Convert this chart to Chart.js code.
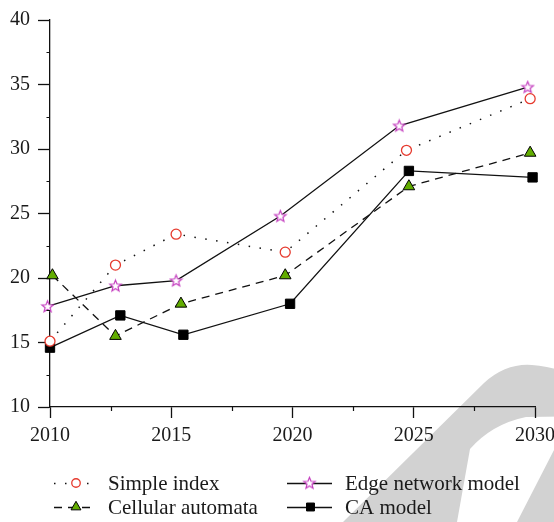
<!DOCTYPE html>
<html>
<head>
<meta charset="utf-8">
<script src="https://cdn.jsdelivr.net/npm/chart.js@4/dist/chart.umd.min.js"></script>
<style>
  html, body { margin: 0; padding: 0; background: #fff; }
  #wrap { width: 554px; height: 522px; overflow: hidden; position: relative; }
  canvas { display: block; }
</style>
</head>
<body>
<div id="wrap"><canvas id="c" width="600" height="522"></canvas></div>
<script>
// Series names (legend order: column 1 then column 2)
const seriesNames = ['Simple index', 'Cellular automata', 'Edge network model', 'CA model'];

// Observation years and values for each series
const simpleYears    = [2010.0, 2012.7, 2015.2, 2019.7, 2024.7, 2029.8];
const simpleValues   = [15.1, 21.0, 23.4, 22.0, 29.9, 33.9];
const cellularYears  = [2010.1, 2012.7, 2015.4, 2019.7, 2024.8, 2029.8];
const cellularValues = [20.2, 15.5, 18.0, 20.2, 27.1, 29.7];
const edgeYears      = [2009.9, 2012.7, 2015.2, 2019.5, 2024.4, 2029.7];
const edgeValues     = [17.8, 19.4, 19.8, 24.8, 31.8, 34.8];
const caYears        = [2010.0, 2012.9, 2015.5, 2019.9, 2024.8, 2029.9];
const caValues       = [14.6, 17.1, 15.6, 18.0, 28.3, 27.8];

// Axis tick labels
const xTicks = [2010, 2015, 2020, 2025, 2030];
const yTicks = [10, 15, 20, 25, 30, 35, 40];

const FONT = "'Liberation Serif', 'Times New Roman', serif";
const INK = '#111';

const pairs = (xs, ys) => xs.map((x, i) => ({ x: x, y: ys[i] }));

// Open five-pointed star marker
function makeStar(color) {
  const c = document.createElement('canvas');
  c.width = 15; c.height = 15;
  const g = c.getContext('2d');
  const cx = 7.5, cy = 7.9, ro = 6.0, ri = 2.6;
  g.beginPath();
  for (let k = 0; k < 10; k++) {
    const r = k % 2 ? ri : ro;
    const a = -Math.PI / 2 + k * Math.PI / 5;
    const px = cx + r * Math.cos(a), py = cy + r * Math.sin(a);
    k ? g.lineTo(px, py) : g.moveTo(px, py);
  }
  g.closePath();
  g.fillStyle = '#fff';
  g.fill();
  g.lineWidth = 1.2;
  g.lineJoin = 'miter';
  g.strokeStyle = color;
  g.stroke();
  return c;
}
const starImg = makeStar('#c43fbf');

const datasets = [
  {
    label: seriesNames[0],
    data: pairs(simpleYears, simpleValues),
    borderColor: INK, borderWidth: 1.5, borderDash: [1.5, 9.5], borderCapStyle: 'butt',
    pointStyle: 'circle', pointRadius: 5, pointBorderWidth: 1.3,
    pointBorderColor: '#e63a2e', pointBackgroundColor: '#fff',
    legendCol: 0, legendRow: 0
  },
  {
    label: seriesNames[1],
    data: pairs(cellularYears, cellularValues),
    borderColor: INK, borderWidth: 1.3, borderDash: [8, 6],
    pointStyle: 'triangle', pointRadius: 6.7, pointBorderWidth: 1,
    pointBorderColor: '#000', pointBackgroundColor: '#62ad00',
    legendCol: 0, legendRow: 1
  },
  {
    label: seriesNames[2],
    data: pairs(edgeYears, edgeValues),
    borderColor: INK, borderWidth: 1.3,
    pointStyle: starImg, pointRadius: 7, pointBorderWidth: 0,
    legendCol: 1, legendRow: 0
  },
  {
    label: seriesNames[3],
    data: pairs(caYears, caValues),
    borderColor: INK, borderWidth: 1.3,
    pointStyle: 'rect', pointRadius: 6.6, pointBorderWidth: 1,
    pointBorderColor: '#000', pointBackgroundColor: '#000',
    legendCol: 1, legendRow: 1
  }
];
datasets.forEach(d => { d.fill = false; d.tension = 0; d.clip = false; d.pointHoverRadius = d.pointRadius; });

// Background and faint emblem behind the plot
const backdrop = {
  id: 'backdrop',
  beforeDraw(chart) {
    const ctx = chart.ctx;
    ctx.save();
    ctx.fillStyle = '#fff';
    ctx.fillRect(0, 0, chart.width, chart.height);
    ctx.beginPath();
    ctx.moveTo(343, 522);
    ctx.lineTo(484, 383);
    ctx.quadraticCurveTo(506, 363, 532, 365);
    ctx.quadraticCurveTo(560, 367, 600, 385);
    ctx.lineTo(600, 522);
    ctx.closePath();
    ctx.moveTo(470, 449);
    ctx.quadraticCurveTo(492, 424, 526, 417);
    ctx.lineTo(600, 416);
    ctx.lineTo(600, 440);
    ctx.lineTo(554, 450);
    ctx.lineTo(517, 522);
    ctx.lineTo(457, 522);
    ctx.closePath();
    ctx.fillStyle = '#d2d2d2';
    ctx.fill('evenodd');
    ctx.restore();
  }
};

// Short minor ticks halfway between labelled ticks
const minorTicks = {
  id: 'minorTicks',
  afterDraw(chart) {
    const ctx = chart.ctx;
    const xs = chart.scales.x, ys = chart.scales.y;
    ctx.save();
    ctx.strokeStyle = INK;
    ctx.lineWidth = 1.2;
    ctx.beginPath();
    for (let i = 0; i + 1 < xTicks.length; i++) {
      const px = Math.round(xs.getPixelForValue((xTicks[i] + xTicks[i + 1]) / 2)) + 0.5;
      ctx.moveTo(px, xs.top);
      ctx.lineTo(px, xs.top + 4);
    }
    for (let i = 0; i + 1 < yTicks.length; i++) {
      const py = Math.round(ys.getPixelForValue((yTicks[i] + yTicks[i + 1]) / 2)) + 0.5;
      ctx.moveTo(ys.right, py);
      ctx.lineTo(ys.right - 3.5, py);
    }
    ctx.stroke();
    ctx.restore();
  }
};

// Two-column legend with line sample and marker
const sampleLegend = {
  id: 'sampleLegend',
  afterDraw(chart) {
    const ctx = chart.ctx;
    const colX = [54, 287];
    const textX = [108, 345];
    const rowY = [483, 507];
    chart.data.datasets.forEach(ds => {
      const x0 = colX[ds.legendCol], y = rowY[ds.legendRow];
      const w = ds.legendCol === 0 ? 42 : 45;
      ctx.save();
      ctx.strokeStyle = ds.borderColor;
      ctx.lineWidth = ds.borderWidth;
      ctx.setLineDash(ds.borderDash || []);
      ctx.beginPath();
      ctx.moveTo(x0, y + 0.5);
      ctx.lineTo(x0 + w, y + 0.5);
      ctx.stroke();
      ctx.setLineDash([]);
      ctx.fillStyle = ds.pointBackgroundColor || '#fff';
      ctx.strokeStyle = ds.pointBorderColor || ds.borderColor;
      ctx.lineWidth = ds.pointBorderWidth;
      const isImg = typeof ds.pointStyle !== 'string';
      Chart.helpers.drawPoint(ctx, {
        pointStyle: ds.pointStyle,
        radius: ds.pointRadius * 0.85,
        rotation: 0,
        borderWidth: ds.pointBorderWidth
      }, x0 + w / 2 + (isImg ? 0 : 1), y);
      ctx.restore();
      ctx.save();
      ctx.font = '21px ' + FONT;
      ctx.fillStyle = '#1a1a1a';
      ctx.textBaseline = 'alphabetic';
      ctx.fillText(ds.label, textX[ds.legendCol], y + 7);
      ctx.restore();
    });
  }
};

new Chart(document.getElementById('c'), {
  type: 'line',
  data: { datasets: datasets },
  plugins: [backdrop, minorTicks, sampleLegend],
  options: {
    responsive: false,
    animation: false,
    devicePixelRatio: 1,
    layout: { padding: { left: 0, top: 15, right: 65, bottom: 0 } },
    plugins: { legend: { display: false }, tooltip: { enabled: false } },
    scales: {
      x: {
        type: 'linear',
        min: xTicks[0], max: xTicks[xTicks.length - 1],
        afterBuildTicks: s => { s.ticks = xTicks.map(v => ({ value: v })); },
        afterFit: s => { s.height = 115; },
        ticks: {
          padding: 6, color: '#1a1a1a', maxRotation: 0, autoSkip: false,
          font: { family: FONT, size: 20 },
          callback: v => String(v)
        },
        grid: { drawOnChartArea: false, drawTicks: true, tickLength: 11, tickColor: INK, tickWidth: 1.3 },
        border: { display: true, color: INK, width: 1.3 }
      },
      y: {
        type: 'linear',
        min: yTicks[0], max: yTicks[yTicks.length - 1],
        afterBuildTicks: s => { s.ticks = yTicks.map(v => ({ value: v })); },
        afterFit: s => { s.width = 50; },
        ticks: {
          padding: 8, color: '#1a1a1a', autoSkip: false,
          font: { family: FONT, size: 20 },
          callback: v => String(v)
        },
        grid: { drawOnChartArea: false, drawTicks: true, tickLength: 12, tickColor: INK, tickWidth: 1.3 },
        border: { display: true, color: INK, width: 1.3 }
      }
    }
  }
});
</script>
</body>
</html>
